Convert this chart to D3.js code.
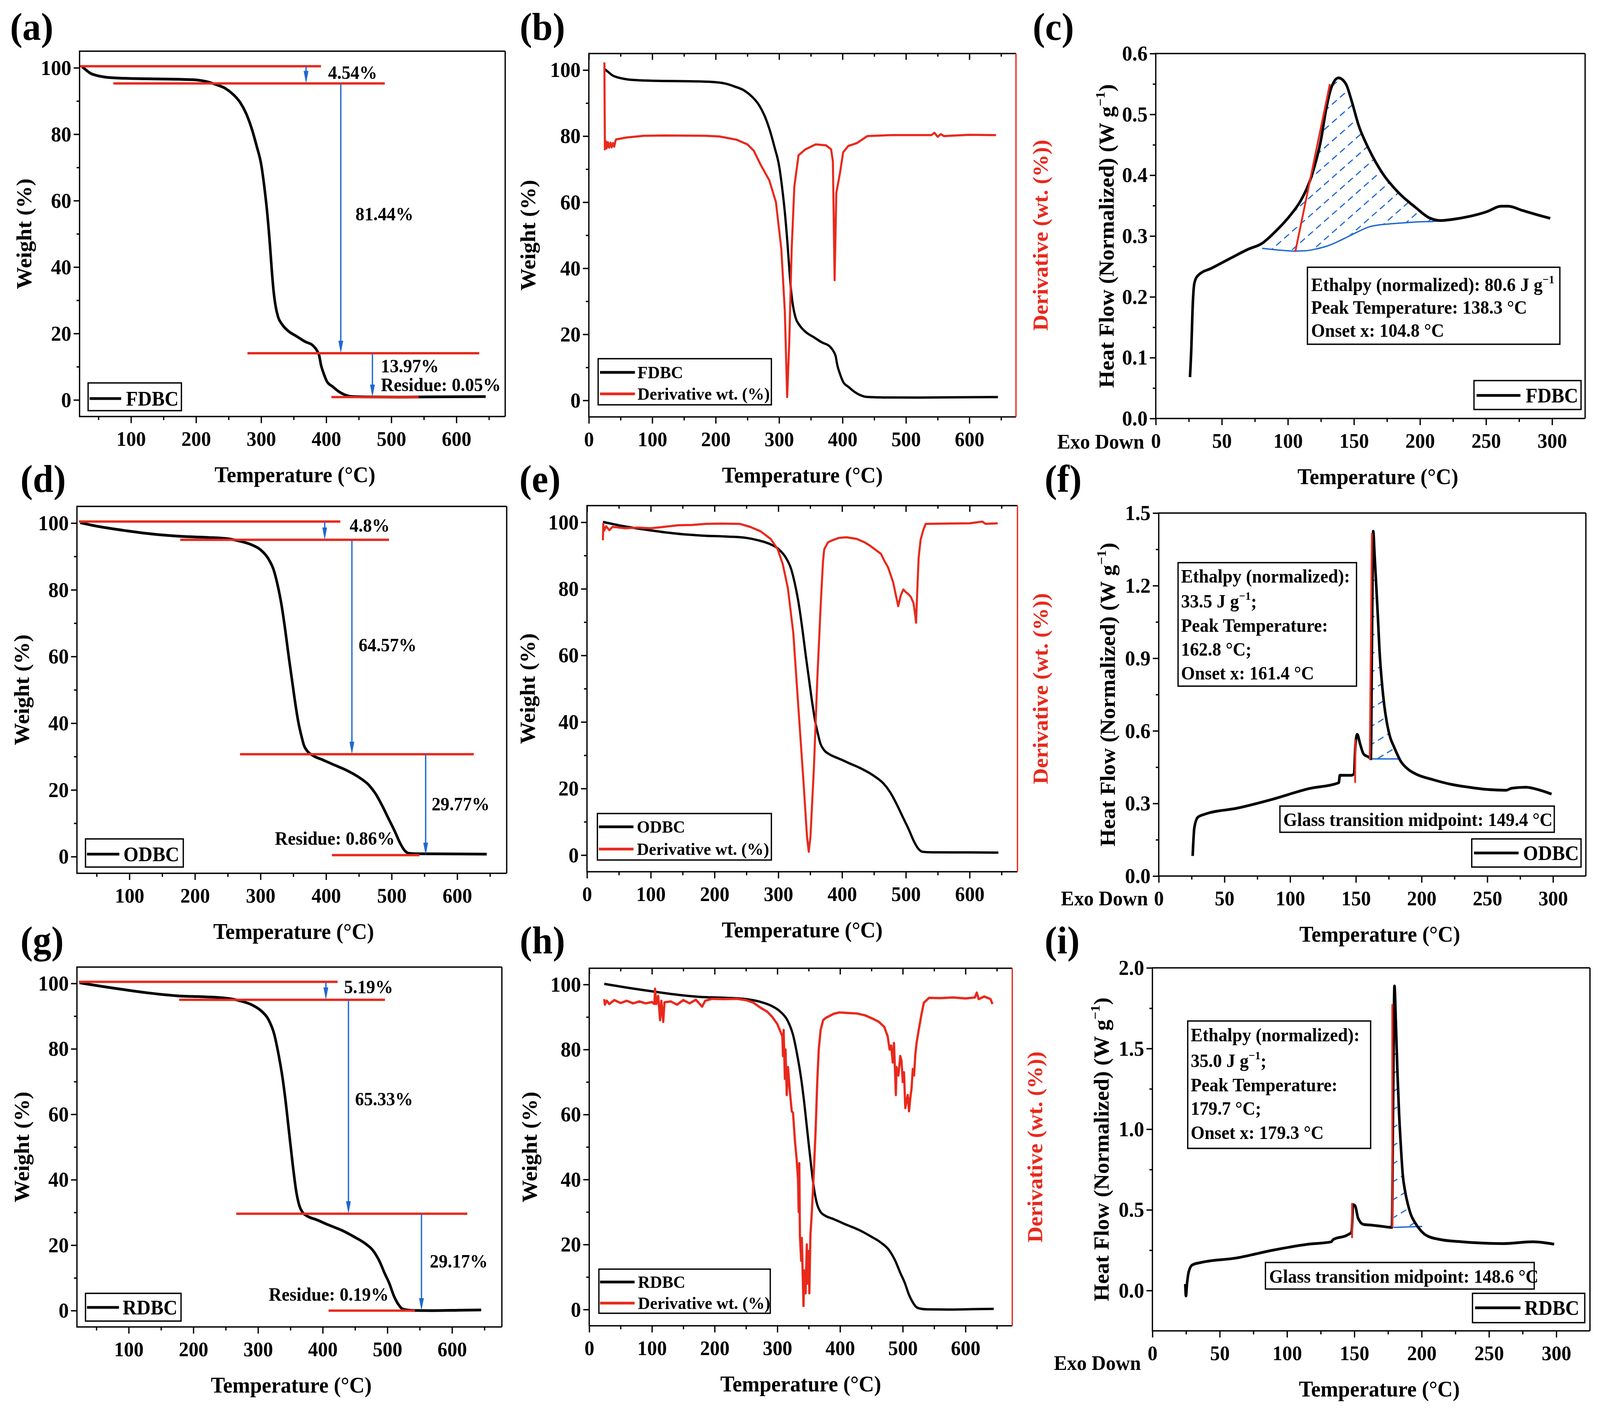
<!DOCTYPE html>
<html><head><meta charset="utf-8">
<script src="https://cdn.jsdelivr.net/npm/d3@7"></script>
<style>
html,body{margin:0;padding:0;background:#fff;overflow:hidden;width:100%;height:100%}
svg{position:fixed;left:0;top:0;width:100vw;height:100vh;display:block}
text{font-family:'Liberation Serif','Times New Roman',Times,serif;font-weight:bold;fill:#000}
</style>
</head><body>
<script>
// ================= DATA =================
const tgaXTicksFrom100 = [100,200,300,400,500,600];
const tgaXTicksFrom0 = [0,100,200,300,400,500,600];
const tgaXMinor = [50,150,250,350,450,550,650];
const tgaYTicks = [0,20,40,60,80,100];
const tgaYMinor = [10,30,50,70,90];
const dscXTicks = [0,50,100,150,200,250,300];
const dscXMinor = [25,75,125,175,225,275];
const dscYTicksC = [0,0.1,0.2,0.3,0.4,0.5,0.6];
const dscYMinorC = [0.05,0.15,0.25,0.35,0.45,0.55];
const dscYTicksF = [0,0.3,0.6,0.9,1.2,1.5];
const dscYMinorF = [0.15,0.45,0.75,1.05,1.35];
const dscYTicksI = [0,0.5,1.0,1.5,2.0];
const dscYMinorI = [0.25,0.75,1.25,1.75];

// TGA weight curves [T (°C), weight (%)]
const fdbcWeight = [[25,100.3],[30,99.5],[38,98.3],[45,97.8],[60,97.2],[80,96.9],[120,96.7],[160,96.6],[195,96.4],[215,95.9],[230,95.0],[245,93.8],[258,91.8],[268,89.5],[277,86.2],[285,82.0],[293,76.5],[300,71],[305,64],[309,57],[313,48],[316,40],[319,33],[322,28.5],[326,25],[332,22.8],[342,20.7],[355,19.1],[367,17.6],[380,16.3],[386,14.8],[389,13.5],[392,10.5],[396,8.0],[401,5.6],[410,4.0],[418,2.7],[428,1.6],[438,1.05],[460,0.9],[520,0.85],[580,0.95],[645,1.0]];
const odbcWeight = [[25,100.1],[55,98.9],[95,97.7],[135,96.7],[180,96.0],[220,95.7],[250,95.3],[268,94.6],[285,93.6],[300,92.0],[312,89.3],[320,86],[326,81.5],[332,75.5],[338,67.5],[343,60],[348,53],[353,46],[358,40],[362,36.5],[366,33.5],[372,31.5],[380,30.3],[395,29],[410,27.7],[430,26],[450,23.8],[465,21.5],[475,19],[485,15.5],[495,11.5],[505,7.5],[513,4.0],[520,1.8],[526,1.0],[540,0.85],[600,0.8],[645,0.75]];
const rdbcWeight = [[24,100.2],[55,99.2],[100,97.9],[130,97.1],[176,96.2],[218,95.9],[250,95.5],[272,94.7],[292,93.3],[305,91.6],[316,89],[325,84.5],[332,78],[338,71],[342,65],[348,54.5],[354,44],[359,36.5],[364,32],[369,30],[376,28.9],[390,27.8],[410,26.1],[430,24.5],[450,22.4],[465,20.6],[478,18.3],[488,15],[496,11.3],[503,8.3],[510,4.5],[516,2.2],[522,0.7],[530,0.2],[540,0.05],[570,0.0],[610,0.1],[645,0.2]];

// Derivative wt. curves (right axis is unlabelled; values read in left-axis units)
const fdbcDeriv = [[24.5,102.3],[25.3,76],[26.5,78.5],[28,76.3],[30,78.2],[32,76.5],[34,78],[36,76.6],[38,77.9],[40,76.8],[42,78.6],[43,79.0],[60,79.6],[87,80.1],[120,80.2],[184,80.1],[206,79.9],[233,78.9],[250,77.5],[260,75.6],[271,71.3],[284.6,66.6],[295,60],[303.5,45.8],[309,27],[312.7,1.0],[316,17.5],[319.8,45.8],[324,64.7],[330.6,74.2],[341.5,76],[357.7,77.5],[374,77.2],[382,76],[384.8,72.3],[387.5,36.4],[390.2,62.8],[395.7,68.5],[401,75.1],[409,77],[422.8,77.9],[439,80],[477,80.3],[540,80.3],[545,81],[550,79.8],[555,80.6],[560,80.0],[600,80.4],[642,80.3]];
const odbcDeriv = [[25,94.6],[25.5,99.5],[27,97.5],[30,98.8],[35,97.6],[40,98.6],[46,98.5],[60,98.2],[80,98.4],[100,98.2],[120,98.6],[143,99.1],[165,99.2],[186,99.5],[210,99.6],[240,99.5],[256,98.6],[272,97.3],[288,95.0],[299,91.9],[307,87.4],[315,80.2],[323.5,66.7],[331.5,44.2],[339.6,21.7],[345,5.5],[347.7,1.0],[350.4,5.5],[355.8,26.2],[361.2,53.2],[366.6,75.7],[370,88],[372,91.9],[378,94],[385,94.6],[395,95.3],[407,95.5],[423,95.0],[435,94],[445,92.8],[461,90.5],[466,88.5],[472,86.5],[480,82],[488,74.8],[492,78],[496,79.8],[500,79],[504,78.4],[508,77.5],[512,75.7],[514,73],[516,69.8],[518,80],[520,89.2],[523,94.6],[527,97.5],[531,99.5],[560,99.6],[600,99.7],[620,100.2],[625,99.5],[644,99.7]];
const rdbcDeriv = [[24,95.5],[25,93.8],[28,95],[32,94],[40,95.2],[50,94.3],[60,95],[70,94.2],[80,94.8],[90,94.2],[100,94.6],[104,94],[105,98.7],[107,94],[110,96.5],[113,89],[115,95],[118,88.5],[120,94.5],[130,94.8],[140,93.8],[150,95.2],[160,94.2],[170,95.3],[180,93.2],[185,95],[196,95.6],[215,95.5],[235,95.6],[250,95.2],[262,94.4],[272,93],[284,91.6],[292,90],[300,87.8],[305,85.5],[308,84],[309,78],[310,86],[312,71],[313,80],[315,66],[317,74.6],[320,67],[323,61],[325,60.5],[328,52],[330.7,46.4],[333,40],[334,30],[335,45],[336,22.8],[338,15],[339,22],[341.7,1.1],[343,12],[345,5],[347,20],[348,8],[350,18],[351,5],[352.7,22.8],[355,30],[358,41.7],[361,55],[363.6,69.9],[366,80],[369,86],[373,89],[377,89.7],[390,91],[399,91.4],[415,91.2],[426.7,91.1],[440,90.5],[454,89.3],[462,88.5],[470.6,86.9],[476,84],[479,80],[481.5,81.2],[484,76],[486,82],[489,66],[490,74.6],[493,72],[496,78],[498,76.5],[500,70],[502,73],[504,62],[506.2,64.3],[508,66],[510,61],[512,65],[514,68],[516,74],[518,72],[520,78.4],[522,82],[525.4,86],[530,91],[533.6,94.4],[541.9,95.9],[560,95.8],[580,96],[600,95.7],[615,96],[618,97.5],[621,95.5],[630,96.3],[640,95.5],[643,94]];

// TGA step annotations: reference levels (weight %, from T, to T), arrows and labels
const fdbcLevels = [{w:100.47,t0:21,t1:392},{w:95.3,t0:73,t1:490},{w:14.07,t0:279,t1:635},{w:0.85,t0:408,t1:542}];
const fdbcArrows = [{t:369,from:100.47,to:95.3},{t:422.4,from:95.3,to:14.07},{t:471,from:14.07,to:0.85}];
const fdbcLabels = [{t:403,w:96.6,text:"4.54%"},{t:445,w:54.1,text:"81.44%"},{t:484,w:8.35,text:"13.97%"},{t:484,w:2.7,text:"Residue: 0.05%"}];
const odbcLevels = [{w:100.45,t0:23,t1:421.7},{w:94.97,t0:177.5,t1:496},{w:30.7,t0:268.7,t1:625.3},{w:0.45,t0:409,t1:542.3}];
const odbcArrows = [{t:397.9,from:100.45,to:94.97},{t:439.4,from:94.97,to:30.7},{t:551.9,from:30.7,to:0.45}];
const odbcLabels = [{t:435.9,w:97.4,text:"4.8%"},{t:449.6,w:61.5,text:"64.57%"},{t:561,w:13.9,text:"29.77%"},{t:321.9,w:3.6,text:"Residue: 0.86%"}];
const rdbcLevels = [{w:100.5,t0:23,t1:423},{w:95.0,t0:178,t1:496.3},{w:29.6,t0:266.3,t1:623.6},{w:0.0,t0:409,t1:542.5}];
const rdbcArrows = [{t:404.9,from:100.5,to:95.0},{t:439.8,from:95.0,to:29.6},{t:552.7,from:29.6,to:0.0}];
const rdbcLabels = [{t:433,w:97,text:"5.19%"},{t:450,w:62.7,text:"65.33%"},{t:565.6,w:13.1,text:"29.17%"},{t:316.6,w:3.0,text:"Residue: 0.19%"}];

// DSC heat flow curves [T (°C), heat flow (W/g)]
const fdbcHeat = [[25.9,0.068],[27,0.12],[27.8,0.176],[29.2,0.222],[31.9,0.235],[42.7,0.2475],[56.2,0.263],[69.7,0.278],[80.5,0.288],[91.3,0.309],[102,0.3346],[110.2,0.360],[118.3,0.401],[125,0.4575],[129,0.509],[133,0.5446],[138.3,0.56],[144,0.5497],[148,0.524],[153.4,0.483],[161.5,0.442],[172.3,0.401],[183,0.373],[196.6,0.347],[207.4,0.3295],[215.5,0.3254],[223.6,0.327],[237,0.332],[250.6,0.34],[261.4,0.349],[266.8,0.349],[277.6,0.342],[291,0.3335],[298.6,0.329]];
const fdbcBaseline = [[80.5,0.2798],[95,0.2765],[105,0.2752],[113,0.2757],[122,0.279],[129,0.283],[137,0.29],[145.3,0.2987],[153,0.307],[161.5,0.315],[170,0.3185],[177.7,0.320],[190,0.322],[199.3,0.3233],[210,0.324],[218.2,0.3254]];
const fdbcOnset = [[[105.6,0.274],[131.8,0.5498]]];
const odbcHeat = [[25.8,0.083],[27.1,0.2],[29.8,0.243],[35.3,0.2558],[59.7,0.2805],[86.8,0.3176],[113.9,0.3608],[137,0.3855],[137.8,0.4164],[146.5,0.416],[148.6,0.4226],[149.7,0.546],[151,0.5857],[153.2,0.546],[156,0.503],[160,0.4906],[161.4,0.484],[162.2,0.9415],[163.2,1.425],[164.2,1.33],[165.5,1.2],[166.8,1.065],[168,0.93],[169.5,0.818],[171.5,0.71],[173.6,0.633],[176,0.575],[179,0.534],[184.4,0.472],[190,0.44],[195.3,0.4226],[208.8,0.398],[222.4,0.379],[236,0.367],[249.5,0.358],[264.4,0.3546],[268.5,0.363],[279.4,0.367],[290.2,0.3546],[298.9,0.3386]];
const odbcBaseline = [[161.4,0.484],[183,0.484]];
const odbcOnset = [[[149.4,0.3855],[149.6,0.5647]],[[160.6,0.482],[162.2,1.417]]];
const rdbcHeat = [[24.4,0.04],[24.9,-0.034],[25.7,0.042],[27,0.117],[29.7,0.159],[36.3,0.174],[62.7,0.202],[89.2,0.2495],[115.7,0.287],[132.9,0.302],[134.2,0.3157],[144.8,0.344],[148,0.363],[149,0.533],[150.6,0.524],[152.8,0.448],[156.7,0.41],[163.4,0.4045],[171.3,0.397],[177.9,0.391],[178.7,1.1],[179.8,1.888],[180.8,1.667],[182,1.35],[183.2,1.1],[184.5,0.9],[185.9,0.722],[187.8,0.61],[189.8,0.533],[192,0.47],[195.1,0.42],[199,0.375],[203,0.344],[213.7,0.316],[229.5,0.302],[248,0.293],[261.3,0.291],[282.5,0.302],[298.4,0.287]];
const rdbcBaseline = [[179.2,0.391],[200.4,0.397]];
const rdbcOnset = [[[148.3,0.325],[148.3,0.5425]],[[178.2,0.391],[178.2,1.775]]];

// ================= DRAWING =================
const RED = "#e8291c", BLUE = "#1f68d0", BLACK = "#000";
const svg = d3.select("body").append("svg").attr("viewBox","0 0 4304 3606").attr("preserveAspectRatio","none");
svg.append("rect").attr("width",4304).attr("height",3606).attr("fill","#fff");
const defs = svg.append("defs");
defs.append("marker").attr("id","arrowBlue").attr("viewBox","0 0 32 13").attr("refX",1).attr("refY",6.5)
  .attr("markerWidth",32).attr("markerHeight",13).attr("markerUnits","userSpaceOnUse").attr("orient","auto")
  .append("path").attr("d","M0,0L32,6.5L0,13Z").attr("fill",BLUE);

function styleAxis(sel, size){
  sel.select(".domain").remove();
  sel.selectAll("line").attr("stroke","#000").attr("stroke-width",3.5);
  sel.selectAll("text").attr("font-size",size).attr("fill","#000");
}

function panel(o){
  const {L,R,T,B} = o.box;
  const g = svg.append("g");
  const x = d3.scaleLinear().domain(o.xDomain).range([L,R]);
  const y = d3.scaleLinear().domain(o.yDomain).range([B,T]);
  g.append("g").attr("transform",`translate(0,${B})`).call(d3.axisBottom(x).tickValues(o.xMinor).tickSize(9).tickFormat("")).call(styleAxis,53);
  g.append("g").attr("transform",`translate(0,${B})`).call(d3.axisBottom(x).tickValues(o.xMajor).tickSize(17).tickPadding(20).tickFormat(o.xFmt)).call(styleAxis,53);
  g.append("g").attr("transform",`translate(${L},0)`).call(d3.axisLeft(y).tickValues(o.yMinor).tickSize(8).tickFormat("")).call(styleAxis,55);
  g.append("g").attr("transform",`translate(${L},0)`).call(d3.axisLeft(y).tickValues(o.yMajor).tickSize(16).tickPadding(6).tickFormat(o.yFmt)).call(styleAxis,55);
  if (o.topTicks){
    g.append("g").attr("transform",`translate(0,${T})`).call(d3.axisTop(x).tickValues(o.xMajor).tickSize(-16).tickFormat("")).call(styleAxis,53);
    g.append("g").attr("transform",`translate(0,${T})`).call(d3.axisTop(x).tickValues(o.xMinor).tickSize(-8).tickFormat("")).call(styleAxis,53);
  }
  return {g,x,y,box:o.box};
}

function frame(P, rightRed){
  const {L,R,T,B} = P.box;
  svg.append("path").attr("d",`M${R},${T}H${L}V${B}H${R}`).attr("fill","none").attr("stroke","#000").attr("stroke-width",3.5);
  svg.append("line").attr("x1",R).attr("x2",R).attr("y1",T).attr("y2",B).attr("stroke",rightRed?RED:"#000").attr("stroke-width",3.5);
}

function curve(P, data, color, w, c){
  const line = d3.line().x(d=>P.x(d[0])).y(d=>P.y(d[1])).curve(c||d3.curveLinear);
  P.g.append("path").datum(data).attr("d",line).attr("fill","none").attr("stroke",color).attr("stroke-width",w).attr("stroke-linejoin","round");
}

function steps(P, levels, arrows, labels){
  levels.forEach(l=>P.g.append("line").attr("x1",P.x(l.t0)).attr("x2",P.x(l.t1)).attr("y1",P.y(l.w)).attr("y2",P.y(l.w)).attr("stroke",RED).attr("stroke-width",6));
  arrows.forEach(a=>{
    const y1=P.y(a.from), y2=P.y(a.to);
    P.g.append("line").attr("x1",P.x(a.t)).attr("x2",P.x(a.t)).attr("y1",y1).attr("y2",y2-31)
      .attr("stroke",BLUE).attr("stroke-width",3.5).attr("marker-end","url(#arrowBlue)");
  });
  labels.forEach(lb=>P.g.append("text").attr("x",P.x(lb.t)).attr("y",P.y(lb.w)).attr("font-size",48).text(lb.text));
}

function rich(sel, parts, size){
  let prevSup=false;
  parts.forEach(p=>{
    const ts = sel.append("tspan").text(p.t);
    if (p.sup){ ts.attr("dy",-0.42*size).attr("font-size",size*0.62); prevSup=true; }
    else { if (prevSup) ts.attr("dy",0.42*size); ts.attr("font-size",size); prevSup=false; }
  });
}

function legend(box, entries, size){
  svg.append("rect").attr("x",box[0]).attr("y",box[1]).attr("width",box[2]-box[0]).attr("height",box[3]-box[1])
    .attr("fill","#fff").attr("stroke","#000").attr("stroke-width",3.5);
  entries.forEach(e=>{
    svg.append("line").attr("x1",e.lx0).attr("x2",e.lx1).attr("y1",e.ly).attr("y2",e.ly).attr("stroke",e.color).attr("stroke-width",7);
    svg.append("text").attr("x",e.tx).attr("y",e.ly+size*0.34).attr("font-size",size).text(e.label);
  });
}

function textBox(box, lines, size){
  svg.append("rect").attr("x",box[0]).attr("y",box[1]).attr("width",box[2]-box[0]).attr("height",box[3]-box[1])
    .attr("fill","#fff").attr("stroke","#000").attr("stroke-width",3.5);
  lines.forEach(l=>{ const t=svg.append("text").attr("x",l.x).attr("y",l.y); rich(t,l.parts,size); });
}

function panelLabel(txt,x,y){ svg.append("text").attr("x",x).attr("y",y).attr("font-size",100).text(txt); }
function xTitle(P,dx){ const {L,R,B}=P.box; svg.append("text").attr("x",(L+R)/2+dx).attr("y",B+168).attr("text-anchor","middle").attr("font-size",57).text("Temperature (°C)"); }
function yTitle(P,xpos,parts,color){
  const {T,B}=P.box;
  const t=svg.append("text").attr("transform",`translate(${xpos},${(T+B)/2}) rotate(-90)`).attr("text-anchor","middle").style("fill",color||"#000");
  rich(t,parts,57);
}

function hatch(P, id, curveData, base, angle, spacing){
  const b0=base[0][0], b1=base[base.length-1][0];
  const top = curveData.filter(d=>d[0]>b0 && d[0]<b1);
  const poly = [base[0], ...top, ...base.slice().reverse()].map(d=>[P.x(d[0]),P.y(d[1])]);
  defs.append("clipPath").attr("id",id).append("path").attr("d","M"+poly.map(p=>p.join(",")).join("L")+"Z");
  const xs=poly.map(p=>p[0]), ys=poly.map(p=>p[1]);
  const x0=d3.min(xs)-5, x1=d3.max(xs)+5, y0=d3.min(ys)-5, y1=d3.max(ys)+5;
  const a=angle*Math.PI/180, t=Math.tan(a), step=spacing/Math.cos(a);
  const hg=P.g.append("g").attr("clip-path",`url(#${id})`);
  for(let c=y0; c<=y1+t*(x1-x0); c+=step){
    hg.append("line").attr("x1",x0).attr("y1",c).attr("x2",x1).attr("y2",c-t*(x1-x0))
      .attr("stroke",BLUE).attr("stroke-width",3).attr("stroke-dasharray","17 11");
  }
}

const fmtInt = d3.format("d"), fmt1 = d3.format(".1f");
const weightTitle = [{t:"Weight (%)"}];
const heatTitle = [{t:"Heat Flow (Normalized) (W g"},{t:"−1",sup:true},{t:")"}];
const derivTitle = [{t:"Derivative (wt. (%))"}];

// ---------- Row 1: FDBC ----------
let P = panel({box:{L:214,R:1359,T:131,B:1066},xDomain:[21,675],yDomain:[-5,105],xMajor:tgaXTicksFrom100,xMinor:tgaXMinor,yMajor:tgaYTicks,yMinor:tgaYMinor,xFmt:fmtInt,yFmt:fmtInt});
curve(P,fdbcWeight,BLACK,7,d3.curveMonotoneX);
steps(P,fdbcLevels,fdbcArrows,fdbcLabels);
frame(P,false);
legend([237,980,488,1051],[{lx0:241,lx1:326,ly:1020,tx:339,label:"FDBC",color:BLACK}],52);
panelLabel("(a)",27,102); xTitle(P,7); yTitle(P,P.box.L-130,weightTitle);

P = panel({box:{L:1584,R:2733,T:137,B:1067},xDomain:[0,673.5],yDomain:[-5,105],xMajor:tgaXTicksFrom0,xMinor:tgaXMinor,yMajor:tgaYTicks,yMinor:tgaYMinor,xFmt:fmtInt,yFmt:fmtInt,topTicks:true});
curve(P,fdbcWeight,BLACK,6,d3.curveMonotoneX);
curve(P,fdbcDeriv,RED,5.5);
frame(P,true);
legend([1609,918,2075,1036],[{lx0:1614,lx1:1708,ly:953,tx:1715,label:"FDBC",color:BLACK},{lx0:1614,lx1:1708,ly:1008,tx:1715,label:"Derivative wt. (%)",color:RED}],45);
panelLabel("(b)",1398,102); xTitle(P,0); yTitle(P,P.box.L-144,weightTitle); yTitle(P,P.box.R+85,derivTitle,RED);

P = panel({box:{L:3109,R:4264,T:137,B:1071},xDomain:[0,325],yDomain:[0,0.6],xMajor:dscXTicks,xMinor:dscXMinor,yMajor:dscYTicksC,yMinor:dscYMinorC,xFmt:fmtInt,yFmt:fmt1});
hatch(P,"hc",fdbcHeat,fdbcBaseline,40,36);
curve(P,fdbcBaseline,BLUE,3.5,d3.curveMonotoneX);
curve(P,fdbcHeat,BLACK,7,d3.curveMonotoneX);
fdbcOnset.forEach(s=>curve(P,s,RED,5));
frame(P,false);
svg.append("text").attr("x",P.box.L-31).attr("y",P.box.B+77).attr("text-anchor","end").attr("font-size",53).text("Exo Down");
textBox([3517,684,4196,881],[
  {x:3527,y:745,parts:[{t:"Ethalpy (normalized): 80.6 J g"},{t:"−1",sup:true}]},
  {x:3527,y:803,parts:[{t:"Peak Temperature: 138.3 °C"}]},
  {x:3527,y:862,parts:[{t:"Onset x: 104.8 °C"}]}],48);
legend([3965,974,4253,1048],[{lx0:3972,lx1:4090,ly:1012,tx:4104,label:"FDBC",color:BLACK}],52);
panelLabel("(c)",2778,102); xTitle(P,20); yTitle(P,2996,heatTitle);

// ---------- Row 2: ODBC ----------
P = panel({box:{L:207,R:1363,T:1296,B:2235},xDomain:[20,675.5],yDomain:[-5,105],xMajor:tgaXTicksFrom100,xMinor:tgaXMinor,yMajor:tgaYTicks,yMinor:tgaYMinor,xFmt:fmtInt,yFmt:fmtInt});
curve(P,odbcWeight,BLACK,7,d3.curveMonotoneX);
steps(P,odbcLevels,odbcArrows,odbcLabels);
frame(P,false);
legend([230,2147,493,2219],[{lx0:234,lx1:321,ly:2186,tx:332,label:"ODBC",color:BLACK}],52);
panelLabel("(d)",55,1259); xTitle(P,5); yTitle(P,P.box.L-129,weightTitle);

P = panel({box:{L:1579,R:2737,T:1294,B:2231},xDomain:[0,675],yDomain:[-5,105],xMajor:tgaXTicksFrom0,xMinor:tgaXMinor,yMajor:tgaYTicks,yMinor:tgaYMinor,xFmt:fmtInt,yFmt:fmtInt,topTicks:true});
curve(P,odbcWeight,BLACK,6,d3.curveMonotoneX);
curve(P,odbcDeriv,RED,5.5);
frame(P,true);
legend([1607,2082,2075,2201],[{lx0:1611,lx1:1704,ly:2116,tx:1713,label:"ODBC",color:BLACK},{lx0:1611,lx1:1704,ly:2173,tx:1713,label:"Derivative wt. (%)",color:RED}],45);
panelLabel("(e)",1397,1259); xTitle(P,0); yTitle(P,P.box.L-140,weightTitle); yTitle(P,P.box.R+81,derivTitle,RED);

P = panel({box:{L:3117,R:4266,T:1313,B:2242},xDomain:[0,325],yDomain:[0,1.5],xMajor:dscXTicks,xMinor:dscXMinor,yMajor:dscYTicksF,yMinor:dscYMinorF,xFmt:fmtInt,yFmt:fmt1});
hatch(P,"hf",odbcHeat,odbcBaseline,30,40);
curve(P,odbcBaseline,BLUE,3.5);
curve(P,odbcHeat,BLACK,7,d3.curveMonotoneX);
odbcOnset.forEach(s=>curve(P,s,RED,5));
frame(P,false);
svg.append("text").attr("x",P.box.L-29).attr("y",P.box.B+75).attr("text-anchor","end").attr("font-size",53).text("Exo Down");
textBox([3169,1440,3649,1756],[
  {x:3177,y:1491,parts:[{t:"Ethalpy (normalized):"}]},
  {x:3177,y:1555,parts:[{t:"33.5 J g"},{t:"−1",sup:true},{t:";"}]},
  {x:3177,y:1617,parts:[{t:"Peak Temperature:"}]},
  {x:3177,y:1678,parts:[{t:"162.8 °C;"}]},
  {x:3177,y:1739,parts:[{t:"Onset x: 161.4 °C"}]}],48);
textBox([3443,2063,4181,2130],[{x:3452,y:2114,parts:[{t:"Glass transition midpoint: 149.4 °C"}]}],48);
legend([3959,2147,4253,2219],[{lx0:3965,lx1:4085,ly:2183,tx:4097,label:"ODBC",color:BLACK}],52);
panelLabel("(f)",2810,1259); xTitle(P,20); yTitle(P,2999,heatTitle);

// ---------- Row 3: RDBC ----------
P = panel({box:{L:207,R:1350,T:2475,B:3396},xDomain:[20,677],yDomain:[-5,105],xMajor:tgaXTicksFrom100,xMinor:tgaXMinor,yMajor:tgaYTicks,yMinor:tgaYMinor,xFmt:fmtInt,yFmt:fmtInt});
curve(P,rdbcWeight,BLACK,7,d3.curveMonotoneX);
steps(P,rdbcLevels,rdbcArrows,rdbcLabels);
frame(P,false);
legend([230,3310,487,3381],[{lx0:234,lx1:320,ly:3346,tx:330,label:"RDBC",color:BLACK}],52);
panelLabel("(g)",55,2440); xTitle(P,5); yTitle(P,P.box.L-129,weightTitle);

P = panel({box:{L:1585,R:2723,T:2478,B:3393},xDomain:[0,674.6],yDomain:[-5,105],xMajor:tgaXTicksFrom0,xMinor:tgaXMinor,yMajor:tgaYTicks,yMinor:tgaYMinor,xFmt:fmtInt,yFmt:fmtInt,topTicks:true});
curve(P,rdbcWeight,BLACK,6,d3.curveMonotoneX);
curve(P,rdbcDeriv,RED,6);
frame(P,true);
legend([1611,3248,2072,3361],[{lx0:1614,lx1:1707,ly:3281,tx:1716,label:"RDBC",color:BLACK},{lx0:1614,lx1:1707,ly:3335,tx:1716,label:"Derivative wt. (%)",color:RED}],45);
panelLabel("(h)",1398,2440); xTitle(P,0); yTitle(P,P.box.L-141,weightTitle); yTitle(P,P.box.R+80,derivTitle,RED);

P = panel({box:{L:3100,R:4277,T:2477,B:3406},xDomain:[0,325],yDomain:[-0.25,2.0],xMajor:dscXTicks,xMinor:dscXMinor,yMajor:dscYTicksI,yMinor:dscYMinorI,xFmt:fmtInt,yFmt:fmt1});
hatch(P,"hi",rdbcHeat,rdbcBaseline,30,40);
curve(P,rdbcBaseline,BLUE,3.5);
curve(P,rdbcHeat,BLACK,7,d3.curveMonotoneX);
rdbcOnset.forEach(s=>curve(P,s,RED,5));
frame(P,false);
svg.append("text").attr("x",P.box.L-31).attr("y",P.box.B+100).attr("text-anchor","end").attr("font-size",53).text("Exo Down");
textBox([3195,2613,3687,2939],[
  {x:3203,y:2665,parts:[{t:"Ethalpy (normalized):"}]},
  {x:3203,y:2731,parts:[{t:"35.0 J g"},{t:"−1",sup:true},{t:";"}]},
  {x:3203,y:2793,parts:[{t:"Peak Temperature:"}]},
  {x:3203,y:2853,parts:[{t:"179.7 °C;"}]},
  {x:3203,y:2915,parts:[{t:"Onset x: 179.3 °C"}]}],48);
textBox([3404,3231,4127,3299],[{x:3414,y:3283,parts:[{t:"Glass transition midpoint: 148.6 °C"}]}],48);
legend([3961,3310,4263,3385],[{lx0:3968,lx1:4090,ly:3347,tx:4101,label:"RDBC",color:BLACK}],52);
panelLabel("(i)",2810,2440); xTitle(P,22); yTitle(P,2982,heatTitle);
</script>
</body></html>
